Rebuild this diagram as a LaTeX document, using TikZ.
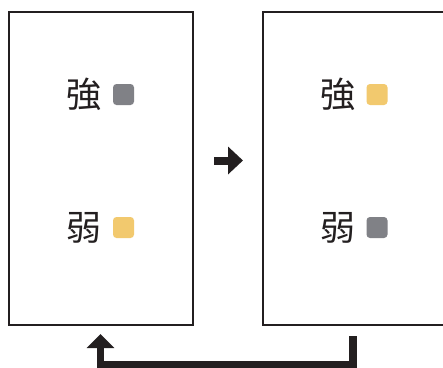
\documentclass[tikz,border=0pt]{standalone}
\usepackage{fontspec}
\newfontfamily\cjk{Noto Sans CJK JP}
\usetikzlibrary{arrows.meta}
\definecolor{inkc}{HTML}{231F20}
\definecolor{grayc}{HTML}{808186}
\definecolor{yellc}{HTML}{F2C96E}
\tikzset{
  panel/.style={draw=inkc, line width=1.8pt, fill=white},
  kanji/.style={font=\cjk\fontsize{35}{35}\selectfont, text=inkc, inner sep=0pt},
  chip/.style={rounded corners=3.5pt, inner sep=0pt, minimum size=21pt},
  bigarrow/.style={draw=inkc, line width=7.5pt, line join=miter,
    -{Triangle[width=27pt,length=14pt]}},
}
\begin{document}
\begin{tikzpicture}[x=1pt,y=-1pt]
\useasboundingbox (0,0) rectangle (443,367);
% panels
\node[panel, minimum width=183.8pt, minimum height=313.3pt, inner sep=0pt] (left) at (101.1,168.35) {};
\node[panel, minimum width=200pt, minimum height=313.3pt, inner sep=0pt] (right) at (363,168.35) {};
% left contents
\node[kanji] (l1) at (84,94.5) {強};
\node[chip, fill=grayc] (l1c) at (123.5,94.5) {};
\node[kanji] (l2) at (84,227.5) {弱};
\node[chip, fill=yellc] (l2c) at (123.5,227.5) {};
% right contents
\node[kanji] (r1) at (338,94.5) {強};
\node[chip, fill=yellc] (r1c) at (377,94.5) {};
\node[kanji] (r2) at (338,227.5) {弱};
\node[chip, fill=grayc] (r2c) at (377,227.5) {};
% middle arrow
\coordinate (ma) at (214,160.5);
\coordinate (mb) at (243,160.5);
\draw[bigarrow, line width=8pt, -{Triangle[width=27pt,length=15pt]}] (ma) -- (mb);
% return arrow
\coordinate (rs) at (353,336);
\coordinate (le) at (100.5,334);
\draw[bigarrow] (rs) -- (353,364.5) -- (100.5,364.5) -- (le);
\end{tikzpicture}
\end{document}
